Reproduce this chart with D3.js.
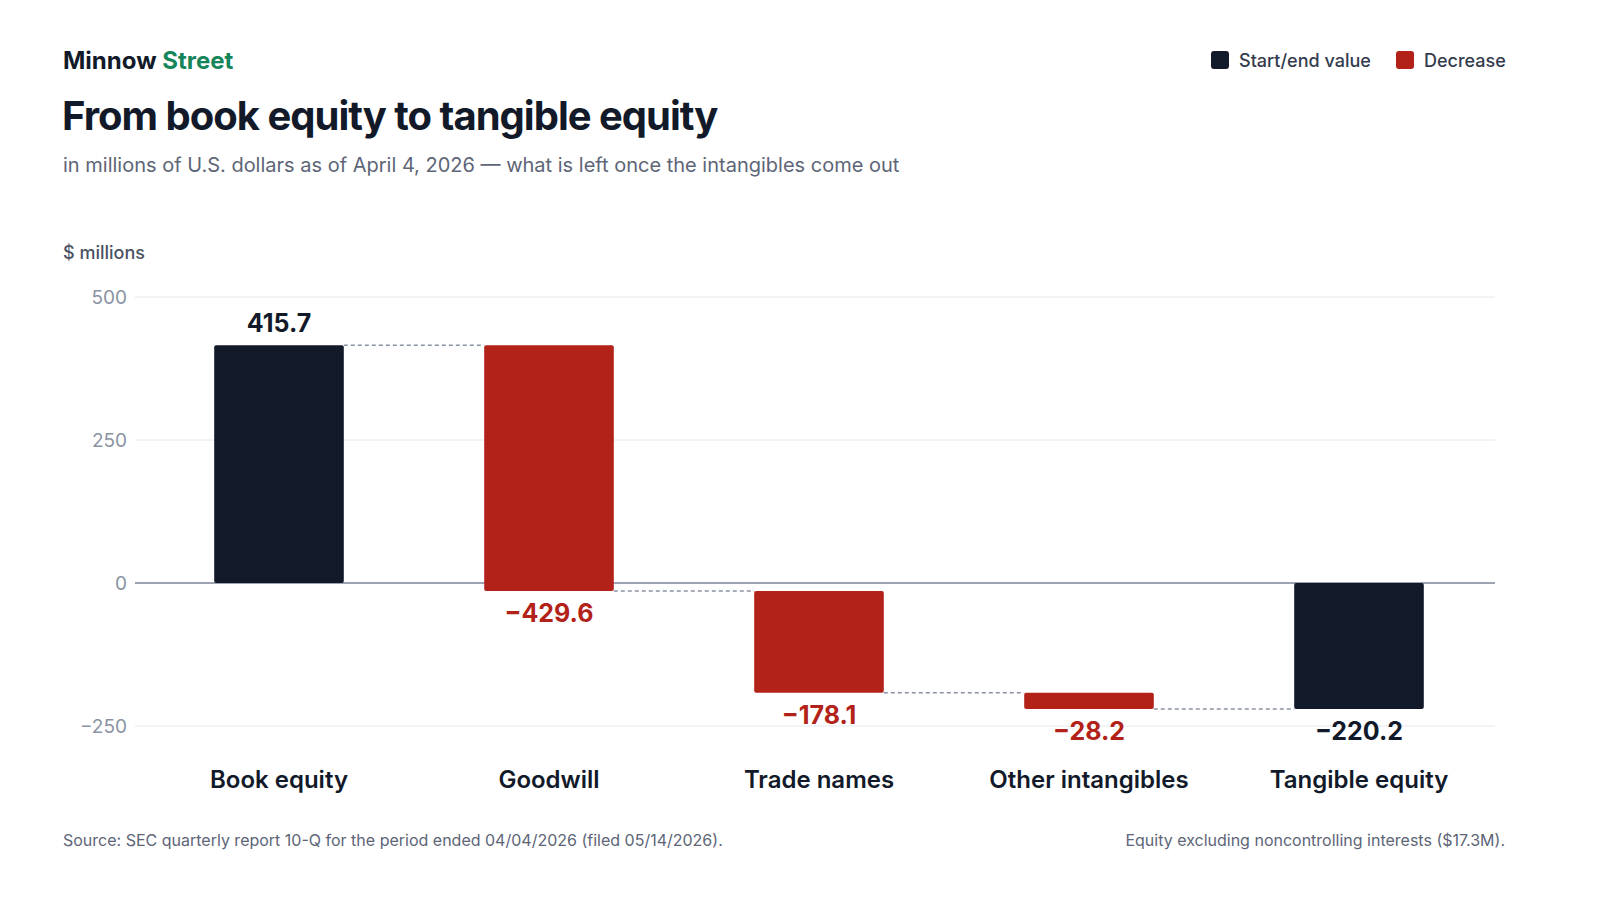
<!DOCTYPE html><html><head><meta charset="utf-8"><script src="https://cdn.jsdelivr.net/npm/d3@7"></script>
<style>body{margin:0;background:#fff;font-family:Inter,sans-serif}</style></head><body><svg id="c" width="1600" height="900"></svg>
<script>
const categories=["Book equity","Goodwill","Trade names","Other intangibles","Tangible equity"];
const values=[415.7,-429.6,-178.1,-28.2,-220.2];
const kinds=["total","decrease","decrease","decrease","total"];
const yTicks=[500,250,0,-250];
const tickLabels=["500","250","0","−250"];
const colors={total:"#121a2a",decrease:"#b22218"};
const svg=d3.select("#c");
const x=d3.scaleBand().domain(categories).range([144,1494]).paddingInner(0.52).paddingOuter(0.26);
const y=d3.scaleLinear().domain([-250,500]).range([726,297]);
// compute segments
let run=0;const segs=values.map((v,i)=>{let a,b;if(kinds[i]==="total"){a=0;b=v;run=v;}else{a=run;b=run+v;run=b;}return{c:categories[i],v,k:kinds[i],a,b};});
const fmt=v=>(v<0?"−":"")+Math.abs(v).toFixed(1);
// grid
svg.append("g").selectAll("line").data(yTicks).join("line").attr("x1",135).attr("x2",1495).attr("y1",d=>y(d)).attr("y2",d=>y(d)).attr("stroke",d=>d===0?"#7d8596":"#e6e8ec").attr("stroke-width",d=>d===0?1.3:1);
svg.append("g").selectAll("text").data(yTicks).join("text").attr("x",127).attr("y",d=>y(d)).attr("dy","0.35em").attr("text-anchor","end").attr("fill","#8a93a3").attr("font-size",19).text((d,i)=>tickLabels[i]);
// connectors
segs.slice(0,-1).forEach((s,i)=>{svg.append("line").attr("x1",x(s.c)+x.bandwidth()).attr("x2",x(categories[i+1])).attr("y1",y(s.k==="total"?s.b:s.b)).attr("y2",y(s.b)).attr("stroke","#8a93a3").attr("stroke-width",1.5).attr("stroke-dasharray","4,3");});
svg.append("g").selectAll("rect").data(segs).join("rect").attr("x",d=>x(d.c)).attr("width",x.bandwidth()).attr("y",d=>y(Math.max(d.a,d.b))).attr("height",d=>Math.abs(y(d.a)-y(d.b))).attr("fill",d=>colors[d.k]).attr("rx",2);
svg.append("g").selectAll("text").data(segs).join("text").attr("x",d=>x(d.c)+x.bandwidth()/2).attr("y",d=>d.v>=0?y(Math.max(d.a,d.b))-13:y(Math.min(d.a,d.b))+31).attr("text-anchor","middle").attr("font-size",25).attr("font-weight",700).attr("fill",d=>colors[d.k]).text(d=>fmt(d.v));
svg.append("g").selectAll("text").data(categories).join("text").attr("x",d=>x(d)+x.bandwidth()/2).attr("y",788).attr("text-anchor","middle").attr("font-size",24).attr("font-weight",600).attr("fill","#121a2a").text(d=>d);
// titles
const t=svg.append("text").attr("x",63).attr("y",69).attr("font-size",24).attr("font-weight",700).attr("fill","#121a2a");
t.append("tspan").text("Minnow ");t.append("tspan").attr("fill","#17855a").text("Street");
svg.append("text").attr("x",62).attr("y",130).attr("font-size",40).attr("font-weight",700).attr("letter-spacing",-1).attr("fill","#121a2a").text("From book equity to tangible equity");
svg.append("text").attr("x",63).attr("y",172).attr("font-size",20).attr("fill","#5d6577").text("in millions of U.S. dollars as of April 4, 2026 — what is left once the intangibles come out");
svg.append("text").attr("x",63).attr("y",259).attr("font-size",18).attr("font-weight",500).attr("fill","#4a5264").text("$ millions");
svg.append("text").attr("x",63).attr("y",846).attr("font-size",16).attr("fill","#5d6577").text("Source: SEC quarterly report 10-Q for the period ended 04/04/2026 (filed 05/14/2026).");
svg.append("text").attr("x",1505).attr("y",846).attr("text-anchor","end").attr("font-size",16).attr("fill","#5d6577").text("Equity excluding noncontrolling interests ($17.3M).");
// legend
const leg=[["Start/end value",colors.total,1211],["Decrease",colors.decrease,1396]];
leg.forEach(([l,c,lx])=>{svg.append("rect").attr("x",lx).attr("y",51).attr("width",18).attr("height",18).attr("rx",3).attr("fill",c);svg.append("text").attr("x",lx+28).attr("y",67).attr("font-size",18).attr("font-weight",500).attr("fill","#333b4d").text(l);});
</script></body></html>
